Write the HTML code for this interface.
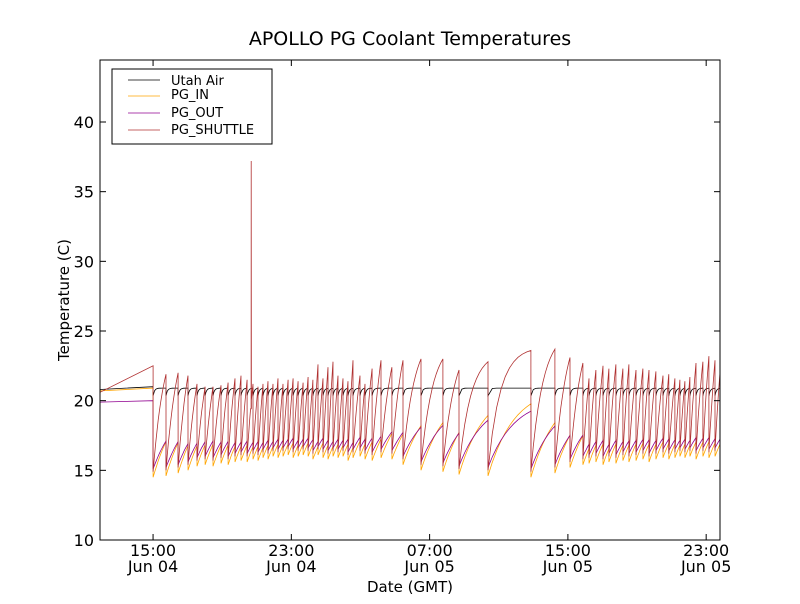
<!DOCTYPE html>
<html><head><meta charset="utf-8"><style>
body{margin:0;background:#fff;font-family:"DejaVu Sans","Liberation Sans",sans-serif}
svg text{font-family:"DejaVu Sans","Liberation Sans",sans-serif}
</style></head><body>
<svg id="chart" width="800" height="600" xmlns="http://www.w3.org/2000/svg">
<rect width="800" height="600" fill="#fff"/>
<text x="410" y="45" font-size="19" text-anchor="middle">APOLLO PG Coolant Temperatures</text>
<g id="plot"></g>
<rect x="100" y="60" width="620" height="480" fill="none" stroke="#000" stroke-width="1"/>
<g id="ticks"></g>
<text transform="translate(69,300) rotate(-90)" font-size="15" text-anchor="middle">Temperature (C)</text>
<text x="410" y="592" font-size="15" text-anchor="middle">Date (GMT)</text>
<g>
<rect x="112" y="69" width="160" height="75" fill="#fff" stroke="#000"/>
<line x1="128" y1="80" x2="160" y2="80" stroke="#000" stroke-width="0.7"/><text x="171" y="85" font-size="13">Utah Air</text>
<line x1="128" y1="96" x2="160" y2="96" stroke="#ffa500" stroke-width="0.7"/><text x="171" y="99" font-size="13">PG_IN</text>
<line x1="128" y1="113" x2="160" y2="113" stroke="#900090" stroke-width="0.7"/><text x="171" y="117" font-size="13">PG_OUT</text>
<line x1="128" y1="130" x2="160" y2="130" stroke="#b03030" stroke-width="0.7"/><text x="171" y="134" font-size="13">PG_SHUTTLE</text>
</g>
</svg>
<script>
// hours since Jun 04 00:00 GMT
const dropTimes=[15.00,15.75,16.45,17.02,17.54,18.01,18.47,18.93,19.34,19.74,20.09,20.44,20.78,21.07,21.36,21.65,21.94,22.23,22.52,22.81,23.10,23.39,23.68,23.97,24.25,24.54,24.83,25.12,25.41,25.70,25.99,26.28,26.57,26.97,27.26,27.67,28.19,28.82,29.46,30.50,31.77,32.70,34.38,36.86,38.25,39.12,39.87,40.22,40.62,41.03,41.37,41.78,42.18,42.53,42.94,43.34,43.69,44.09,44.50,44.84,45.19,45.48,45.77,46.06,46.41,46.81,47.16,47.51];
const shuttlePeak=[21.9,22.0,21.8,21.2,21.0,21.0,21.1,21.3,21.6,21.8,21.5,21.2,21.0,21.2,21.4,21.2,21.6,21.2,21.5,21.6,21.4,21.3,21.7,21.5,22.6,21.6,22.4,22.8,21.8,21.6,21.4,22.9,21.8,21.2,22.3,22.9,22.4,22.9,23.0,23.0,22.2,22.8,23.6,23.7,23.1,22.7,21.6,22.2,22.5,22.3,22.6,22.3,22.6,22.2,22.3,22.2,22.1,21.8,21.9,21.6,21.5,21.4,21.7,22.7,22.8,23.2,22.9,22.0];
const inMin=[14.5,14.6,14.8,15.0,15.3,15.4,15.3,15.5,15.4,15.6,15.7,15.6,15.8,15.7,15.9,15.8,16.0,15.9,16.0,16.1,15.9,16.0,16.1,16.0,15.8,16.1,15.9,15.8,16.0,15.9,16.0,15.7,15.9,16.0,15.8,15.7,15.9,15.8,15.4,15.0,14.9,14.7,14.6,14.5,14.8,15.2,15.4,15.5,15.6,15.4,15.6,15.5,15.7,15.6,15.7,15.8,15.6,15.8,15.9,15.8,15.9,16.0,15.9,16.0,15.8,16.0,15.9,16.0];
const startTime=[11.93], endTime=[47.80];
const initShuttle=[20.6,22.5], initIn=[20.7,20.9], initOut=[19.9,20.0], initAir=[20.8,21.0];
const airLevel=[20.9], airDip=[20.35];
const inCap=[21.0], outCap=[20.2];
const spikeTime=[20.67], spikeValue=[37.2];
const yTicks=[10,15,20,25,30,35,40];
const xTickTimes=[15,23,31,39,47];
const xTickTop=["15:00","23:00","07:00","15:00","23:00"];
const xTickBottom=["Jun 04","Jun 04","Jun 05","Jun 05","Jun 05"];

const X0=100,X1=720,Y0=540,Y1=60,ymin=10,ymax=44.45;
const sx=t=>X0+(t-startTime[0])/(endTime[0]-startTime[0])*(X1-X0);
const sy=v=>Y0-(v-ymin)/(ymax-ymin)*(Y0-Y1);
const NS="http://www.w3.org/2000/svg";
const plot=document.getElementById('plot'), ticks=document.getElementById('ticks');

const air=[],pin=[],pout=[],sh=[];
air.push([startTime[0],initAir[0]],[dropTimes[0],initAir[1]]);
pin.push([startTime[0],initIn[0]],[dropTimes[0],initIn[1]]);
pout.push([startTime[0],initOut[0]],[dropTimes[0],initOut[1]]);
sh.push([startTime[0],initShuttle[0]],[dropTimes[0],initShuttle[1]]);
for(let i=0;i<dropTimes.length;i++){
  const t0=dropTimes[i], t1=(i+1<dropTimes.length?dropTimes[i+1]:endTime[0]);
  const d=t1-t0, mn=inMin[i], pk=shuttlePeak[i];
  const shMin=mn+0.4, tauS=0.7;
  const norm=1-Math.exp(-d/tauS);
  const n=10;
  for(let k=0;k<=n;k++){
    const s=d*k/n, t=t0+s;
    sh.push([t, shMin+(pk-shMin)*(1-Math.exp(-s/tauS))/norm]);
    pin.push([t, mn+(inCap[0]-mn)*(1-Math.exp(-s/1.5))]);
    const om=mn+0.6;
    pout.push([t, om+(outCap[0]-om)*(1-Math.exp(-s/1.5))]);
    air.push([t, airLevel[0]-(airLevel[0]-airDip[0])*Math.exp(-s/0.08)]);
  }
  if(spikeTime[0]>=t0&&spikeTime[0]<t1){
    const j=sh.findIndex(p=>p[0]>spikeTime[0]);
    if(j>0){sh.splice(j,0,[spikeTime[0],sh[j-1][1]],[spikeTime[0]+0.01,spikeValue[0]],[spikeTime[0]+0.02,sh[j-1][1]]);}
  }
}
function line(pts,color,name){
  const p=document.createElementNS(NS,'polyline');
  
  
  p.setAttribute('points',pts.map(q=>sx(q[0]).toFixed(1)+','+sy(q[1]).toFixed(1)).join(' '));
  p.setAttribute('fill','none');p.setAttribute('stroke',color);p.setAttribute('stroke-width','0.8');
  plot.appendChild(p);
}
line(air,'#000','series-utah-air');
line(pin,'#ffa500','series-pg-in');
line(pout,'#900090','series-pg-out');
line(sh,'#b03030','series-pg-shuttle');

yTicks.forEach(v=>{
  const y=sy(v);
  const g=document.createElementNS(NS,'g');
  
  
  g.innerHTML=`<line x1="100" y1="${y}" x2="106" y2="${y}" stroke="#000"/><line x1="714" y1="${y}" x2="720" y2="${y}" stroke="#000"/><text x="94" y="${y+6}" font-size="16" text-anchor="end">${v}</text>`;
  ticks.appendChild(g);
});
xTickTimes.forEach((t,i)=>{
  const x=sx(t);
  const g=document.createElementNS(NS,'g');
  
  
  g.innerHTML=`<line x1="${x}" y1="540" x2="${x}" y2="534" stroke="#000"/><line x1="${x}" y1="60" x2="${x}" y2="66" stroke="#000"/><text x="${x}" y="556" font-size="16" text-anchor="middle">${xTickTop[i]}</text><text x="${x}" y="572" font-size="16" text-anchor="middle">${xTickBottom[i]}</text>`;
  ticks.appendChild(g);
});
</script>
</body></html>
